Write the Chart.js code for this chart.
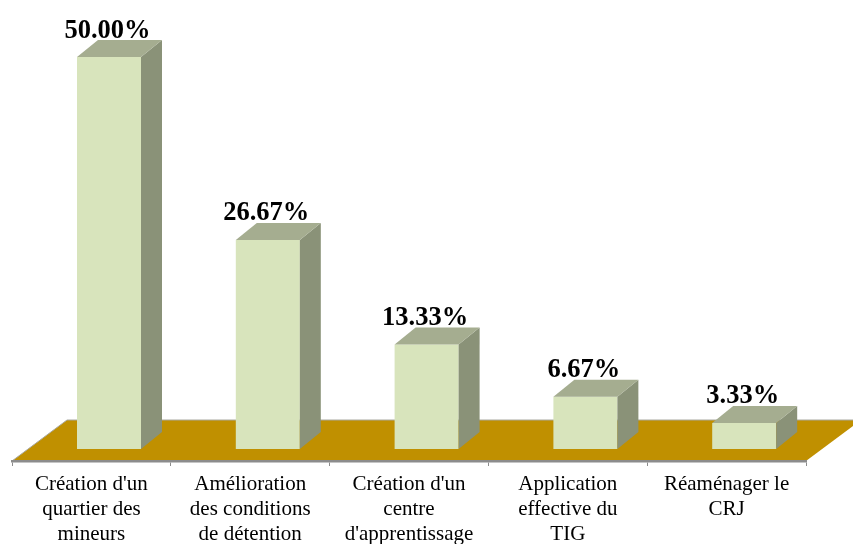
<!DOCTYPE html>
<html>
<head>
<meta charset="utf-8">
<script src="https://cdn.jsdelivr.net/npm/chart.js@4/dist/chart.umd.min.js"></script>
<style>
  html, body { margin: 0; background: #fff; }
  canvas { display: block; }
</style>
</head>
<body>
<canvas id="chart" width="853" height="544"></canvas>
<script>
const categories = [
    ["Création d'un", "quartier des", "mineurs"],
    ["Amélioration", "des conditions", "de détention"],
    ["Création d'un", "centre", "d'apprentissage"],
    ["Application", "effective du", "TIG"],
    ["Réaménager le", "CRJ"]
];
const values = [50.00, 26.67, 13.33, 6.67, 3.33];

// bars stand in the middle of the floor, not on the axis line
const shiftX = 17.6, shiftY = -12;
const depthX = 21, depthY = -17;
const floorX = 55, floorY = -41;

const fake3d = {
    id: "fake3d",
    beforeDraw(chart) {
        const ctx = chart.ctx, a = chart.scales.x, b = chart.scales.y.getPixelForValue(0);
        ctx.save();
        ctx.fillStyle = "#C09000";
        ctx.beginPath();
        ctx.moveTo(a.left, b);
        ctx.lineTo(a.right, b);
        ctx.lineTo(a.right + floorX, b + floorY);
        ctx.lineTo(a.left + floorX, b + floorY);
        ctx.closePath();
        ctx.fill();
        ctx.strokeStyle = "#A8A8A0";
        ctx.lineWidth = 1;
        ctx.beginPath();
        ctx.moveTo(a.left, b);
        ctx.lineTo(a.left + floorX, b + floorY);
        ctx.lineTo(a.right + floorX, b + floorY);
        ctx.stroke();
        ctx.restore();
    },
    beforeDatasetsDraw(chart) {
        chart.ctx.save();
        chart.ctx.translate(shiftX, shiftY);
    },
    afterDatasetsDraw(chart) {
        const ctx = chart.ctx;
        chart.getDatasetMeta(0).data.forEach((bar, i) => {
            const l = bar.x - bar.width / 2, r = bar.x + bar.width / 2;
            // side face
            ctx.fillStyle = "#8A9278";
            ctx.beginPath();
            ctx.moveTo(r, bar.y);
            ctx.lineTo(r + depthX, bar.y + depthY);
            ctx.lineTo(r + depthX, bar.base + depthY);
            ctx.lineTo(r, bar.base);
            ctx.closePath();
            ctx.fill();
            // top face
            ctx.fillStyle = "#A5AD90";
            ctx.beginPath();
            ctx.moveTo(l, bar.y);
            ctx.lineTo(l + depthX, bar.y + depthY);
            ctx.lineTo(r + depthX, bar.y + depthY);
            ctx.lineTo(r, bar.y);
            ctx.closePath();
            ctx.fill();
            // value label
            ctx.fillStyle = "#000";
            ctx.font = "bold 26.5px 'Liberation Serif'";
            ctx.textAlign = "center";
            ctx.textBaseline = "alphabetic";
            ctx.fillText(values[i].toFixed(2) + "%", bar.x - 1.5, bar.y - 19.5);
        });
        ctx.restore();
    }
};

new Chart(document.getElementById("chart"), {
    type: "bar",
    data: {
        labels: categories,
        datasets: [{
            data: values,
            backgroundColor: "#D8E4BC",
            borderWidth: 0,
            barPercentage: 1,
            categoryPercentage: 0.403,
            clip: false
        }]
    },
    options: {
        responsive: false,
        animation: false,
        layout: { padding: { left: 12, right: 47, top: 69, bottom: 0 } },
        plugins: { legend: { display: false }, tooltip: { enabled: false } },
        scales: {
            x: {
                afterFit(scale) { scale.height = 83; },
                border: { color: "#8C8C8C", width: 2.5 },
                grid: { offset: true, drawOnChartArea: false, color: "#8C8C8C", tickLength: 5 },
                ticks: {
                    color: "#000",
                    padding: 6,
                    maxRotation: 0,
                    autoSkip: false,
                    font: { family: "'Liberation Serif'", size: 21, lineHeight: 1.19 }
                }
            },
            y: { display: false, min: 0, max: 50 }
        }
    },
    plugins: [fake3d]
});
</script>
</body>
</html>
